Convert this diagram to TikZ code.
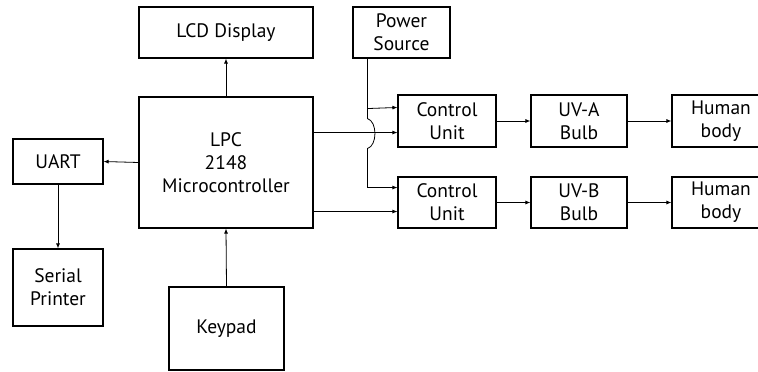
\documentclass[tikz,border=0pt]{standalone}
\usepackage{fontspec}
\setmainfont{PT Sans}
\usetikzlibrary{arrows.meta,calc}
\begin{document}
\begin{tikzpicture}[x=1pt,y=-1pt,
  box/.style={draw,line width=1.1pt,inner sep=0pt,align=center,font=\fontsize{19.5}{23}\selectfont},
  conn/.style={line width=0.8pt,-{Latex[length=5pt,width=4pt]}},
  wire/.style={line width=0.8pt}]
\useasboundingbox (0,0) rectangle (758,372);
\node[box,minimum width=174pt,minimum height=51pt] (lcd) at (226,32.5) {LCD Display};
\node[box,minimum width=174pt,minimum height=131pt] (lpc) at (226,162.5) {LPC\\2148\\Microcontroller};
\node[box,minimum width=90pt,minimum height=45pt] (uart) at (58,161.5) {UART};
\node[box,minimum width=90pt,minimum height=77pt] (sp) at (58,287.5) {Serial\\Printer};
\node[box,minimum width=115pt,minimum height=83pt] (kp) at (226.5,328.5) {Keypad};
\node[box,minimum width=97pt,minimum height=51pt] (ps) at (401.5,32.5) {Power\\Source};
\node[box,minimum width=98pt,minimum height=52pt] (cu1) at (447,121) {Control\\Unit};
\node[box,minimum width=98pt,minimum height=51pt] (cu2) at (447,202.5) {Control\\Unit};
\node[box,minimum width=96pt,minimum height=52pt] (uva) at (579,121) {UV-A\\Bulb};
\node[box,minimum width=96pt,minimum height=51pt] (uvb) at (579,202.5) {UV-B\\Bulb};
\node[box,minimum width=98pt,minimum height=52pt] (hb1) at (721,121) {Human\\body};
\node[box,minimum width=98pt,minimum height=51pt] (hb2) at (721,202.5) {Human\\body};
% connectors
\draw[conn] (lpc.north) -- (lcd.south);
\draw[conn] (lpc.west) -- (uart.east);
\draw[conn] (uart.south) -- (sp.north);
\draw[conn] (kp.north) -- (lpc.south);
\draw[conn] ($(lpc.north east)+(0,36)$) -- ($(cu1.south west)+(0,-15)$);
\draw[conn] ($(lpc.north east)+(0,115)$) -- ($(cu2.south west)+(0,-17)$);
% power wiring with jump
\coordinate (pa) at ($(ps.south west)+(15,0)$);
\coordinate (pb) at ($(pa)+(0,60)$);
\coordinate (pc) at ($(pa)+(0,90)$);
\coordinate (pd) at ($(pa)+(0,129)$);
\draw[wire] (pa) -- (pb) .. controls ($(pb)+(10,3)$) and ($(pc)+(10,-3)$) .. (pc) -- (pd);
\draw[conn] (pd) -- (pd -| cu2.west);
\draw[conn] ($(pa)+(0,50)$) -- ($(cu1.north west)+(0,13)$);
\draw[conn] (cu1.east) -- (uva.west);
\draw[conn] (uva.east) -- (hb1.west);
\draw[conn] (cu2.east) -- (uvb.west);
\draw[conn] (uvb.east) -- (hb2.west);
\end{tikzpicture}
\end{document}
